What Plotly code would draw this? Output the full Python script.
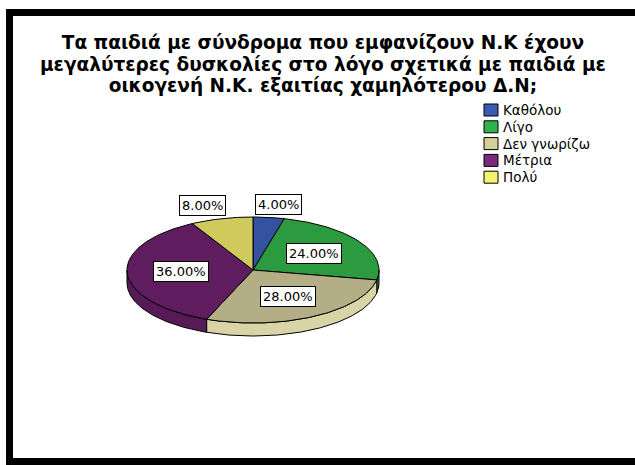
import math
import plotly.graph_objects as go

# Survey answers and their shares (percent)
CATEGORIES = ["Καθόλου", "Λίγο", "Δεν γνωρίζω", "Μέτρια", "Πολύ"]
PERCENTS = [4.00, 24.00, 28.00, 36.00, 8.00]
LABELS = [f"{v:.2f}%" for v in PERCENTS]
TITLE_LINES = [
    "Τα παιδιά με σύνδρομα που εμφανίζουν Ν.Κ έχουν",
    "μεγαλύτερες δυσκολίες στο λόγο σχετικά με παιδιά με",
    "οικογενή Ν.Κ. εξαιτίας χαμηλότερου Δ.Ν;",
]

# Styling
LEGEND_COLORS = ["#3b5bb5", "#2fb44b", "#d5cf98", "#7c287c", "#f4f46c"]
TOP_COLORS = ["#34529f", "#2c9a3f", "#b4ae86", "#5f1c5f", "#d0ca5c"]
SIDE_COLORS = ["#2a4486", "#248636", "#d8d4a6", "#561a56", "#b8b24e"]
FONT = "DejaVu Sans"

W, H = 635, 465
CX, CY = 253, 270      # centre of the tilted pie's top face
RX, RY = 126, 53       # ellipse radii of the top face
DEPTH = 13             # thickness of the pie


def rim(t_deg, dy=0.0):
    """Point on the ellipse, angle measured clockwise from 12 o'clock."""
    t = math.radians(t_deg)
    return CX + RX * math.sin(t), CY - RY * math.cos(t) + dy


def arc(a0, a1, dy=0.0):
    n = max(2, int(abs(a1 - a0)) + 1)
    pts = [rim(a0 + (a1 - a0) * k / (n - 1), dy) for k in range(n)]
    return [p[0] for p in pts], [p[1] for p in pts]


fig = go.Figure()

# slice angle ranges from the percentages
bounds = []
acc = 0.0
for v in PERCENTS:
    a0 = acc * 3.6
    acc += v
    bounds.append((a0, acc * 3.6))

# visible side walls (front half of the pie)
for (a0, a1), col in zip(bounds, SIDE_COLORS):
    s0, s1 = max(a0, 90.0), min(a1, 270.0)
    if s1 <= s0:
        continue
    xt, yt = arc(s0, s1)
    xb, yb = arc(s1, s0, DEPTH)
    fig.add_trace(go.Scatter(
        x=xt + xb + [xt[0]], y=yt + yb + [yt[0]],
        mode="lines", fill="toself", fillcolor=col,
        line=dict(color="black", width=1),
        showlegend=False, hoverinfo="skip"))

# top faces of the slices
for (a0, a1), col in zip(bounds, TOP_COLORS):
    xs, ys = arc(a0, a1)
    fig.add_trace(go.Scatter(
        x=[CX] + xs + [CX], y=[CY] + ys + [CY],
        mode="lines", fill="toself", fillcolor=col,
        line=dict(color="black", width=1),
        showlegend=False, hoverinfo="skip"))

annotations = []

# percentage labels: small slices above the pie, the rest inside
for (a0, a1), lab, v in zip(bounds, LABELS, PERCENTS):
    mid = math.radians((a0 + a1) / 2)
    if v < 10:
        fx, fy = 1.6, 1.25
    else:
        fx, fy = 0.57, 0.57
    lx = CX + RX * math.sin(mid) * fx
    ly = CY - RY * math.cos(mid) * fy
    annotations.append(dict(
        x=lx, y=ly, text=lab, showarrow=False,
        xanchor="center", yanchor="middle",
        font=dict(family=FONT, size=13, color="black"),
        bgcolor="white", bordercolor="black", borderwidth=1, borderpad=2))

# title: line pitch set by the base size, glyph size by the spans
title_html = "<br>".join(
    f'<span style="font-size:18.5px"><b>{line}</b></span>' for line in TITLE_LINES)
annotations.append(dict(
    x=323, y=64, text=title_html, showarrow=False,
    xanchor="center", yanchor="middle", align="center",
    font=dict(family=FONT, size=16.65, color="black")))

# legend
shapes = []
for i, (cat, col) in enumerate(zip(CATEGORIES, LEGEND_COLORS)):
    ry = 110 + i * 16.8
    shapes.append(dict(type="rect", x0=484, x1=498, y0=ry - 6, y1=ry + 6,
                       fillcolor=col, line=dict(color="black", width=1)))
    annotations.append(dict(
        x=501, y=ry, text=cat, showarrow=False,
        xanchor="left", yanchor="middle",
        font=dict(family=FONT, size=13.5, color="black")))

# heavy frame around the chart
shapes.append(dict(type="rect", x0=9.5, y0=12.5, x1=660, y1=461.5,
                   line=dict(color="black", width=7), fillcolor="rgba(0,0,0,0)"))

fig.update_layout(
    width=W, height=H,
    margin=dict(l=0, r=0, t=0, b=0),
    paper_bgcolor="white", plot_bgcolor="white",
    xaxis=dict(range=[0, W], visible=False, fixedrange=True),
    yaxis=dict(range=[H, 0], visible=False, fixedrange=True),
    annotations=annotations,
    shapes=shapes,
    showlegend=False,
)

fig.write_html("out.html")
